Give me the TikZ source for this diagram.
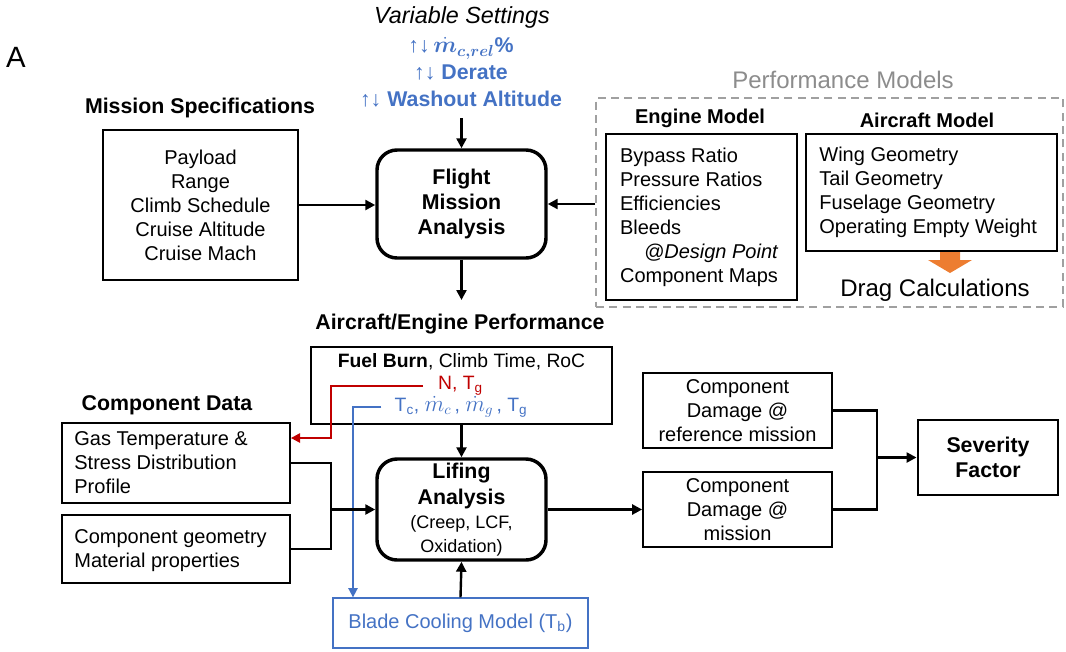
\documentclass[tikz,border=0pt]{standalone}
\usepackage{fontspec}
\setmainfont{Liberation Sans}
\usepackage{amsmath,bm}
\usetikzlibrary{arrows.meta}
\definecolor{myblue}{HTML}{4472C4}
\definecolor{myred}{HTML}{C00000}
\definecolor{myorange}{HTML}{ED7D31}
\definecolor{mygray}{HTML}{8C8C8C}
\definecolor{dashgray}{HTML}{A0A0A0}
\newcommand\fs[2]{\fontsize{#1pt}{#2pt}\selectfont}
\begin{document}
\begin{tikzpicture}[x=0.75pt,y=-0.75pt,
  box/.style={draw, line width=1.3pt, inner sep=0pt, align=center, font=\fs{15}{18}},
  rbox/.style={draw, line width=2.6pt, rounded corners=15pt, inner sep=0pt, align=center},
  txt/.style={inner sep=0pt, align=center},
  ttl/.style={txt, font=\fs{16}{19}\bfseries},
  ln/.style={line width=1.8pt},
  conn/.style={ln, -{Triangle[length=7.5pt,width=7.5pt]}},
  redc/.style={line width=1.6pt, draw=myred, -{Triangle[length=7pt,width=7pt]}},
  bluec/.style={line width=1.3pt, draw=myblue, -{Triangle[length=7pt,width=7pt]}}
]
\useasboundingbox (0,0) rectangle (1066,651);

% top labels
\node[txt, font=\fs{22}{26}] (lblA) at (16,57) {A};
\node[txt, font=\fs{17.5}{21}\itshape] (vs) at (462,17) {Variable Settings};
\node[txt, font=\fs{16}{20}\bfseries, text=myblue] (vb) at (461,72)
  {↑↓\,{\fs{18}{20}$\bm{\dot{m}_{c,rel}}$}\%\\↑↓ Derate\\↑↓ Washout Altitude};
\coordinate (vsb) at (461.5,118);

% mission specs
\node[ttl] (mst) at (200,108) {Mission Specifications};
\node[box, minimum width=146.25pt, minimum height=112.5pt] (ms) at (200.5,205)
  {Payload\\Range\\Climb Schedule\\Cruise Altitude\\Cruise Mach};

% flight mission analysis
\node[rbox, minimum width=126.75pt, minimum height=81pt, font=\fs{16}{19}\bfseries] (fma) at (461.5,204)
  {Flight\\Mission\\Analysis};

% performance models
\node[txt, font=\fs{18}{21}, text=mygray] (pmt) at (843,80) {Performance Models};
\node[draw=dashgray, line width=1.2pt, dash pattern=on 6pt off 4pt, minimum width=350.25pt, minimum height=156.75pt, inner sep=0pt] (pm) at (829.5,202.5) {};

\node[txt, font=\fs{15}{18}\bfseries] (emt) at (700,118) {Engine Model};
\node[box, minimum width=143.25pt, minimum height=124.5pt] (eng) at (701.5,217) {};
\node[txt, anchor=west, align=left, font=\fs{15}{18}] (engt) at ([xshift=11pt]eng.west)
  {Bypass Ratio\\Pressure Ratios\\Efficiencies\\Bleeds\\\hspace*{18pt}\textit{@Design Point}\\Component Maps};

\node[txt, font=\fs{15}{18}\bfseries] (amt) at (927,120) {Aircraft Model};
\node[box, minimum width=188.25pt, minimum height=87.75pt] (acm) at (931.5,192.5) {};
\node[txt, anchor=west, align=left, font=\fs{15}{18}] (acmt) at ([xshift=10.5pt]acm.west)
  {Wing Geometry\\Tail Geometry\\Fuselage Geometry\\Operating Empty Weight};

\fill[myorange] (940,252) -- (960,252) -- (960,260) -- (972,260) -- (950,273) -- (928,260) -- (940,260) -- cycle;
\node[txt, font=\fs{18}{21}] (drag) at (935,290) {Drag Calculations};

% aircraft/engine performance
\coordinate (aep) at (461.5,300);
\node[ttl] (aept) at (460,324) {Aircraft/Engine Performance};
\node[box, minimum width=225.75pt, minimum height=57.75pt] (perf) at (461.5,385.5) {};
\node[txt, font=\fs{14.5}{17}] (fb) at (461.5,362) {\textbf{Fuel Burn}, Climb Time, RoC};
\node[txt, font=\fs{14.5}{17}, text=myred] (nt) at (460.5,386) {N, T\textsubscript{g}};
\node[txt, font=\fs{14.5}{17}, text=myblue] (tc) at (461,407) {T\textsubscript{c}, {\fs{16}{17}$\dot{m}_c$}\,, {\fs{16}{17}$\dot{m}_g$}\,, T\textsubscript{g}};

% component data
\node[ttl] (cdt) at (167,405) {Component Data};
\node[box, minimum width=171pt, minimum height=60pt] (gas) at (176,463) {};
\node[txt, anchor=west, align=left, font=\fs{15}{18}] (gast) at ([xshift=9.75pt]gas.west)
  {Gas Temperature \&\\Stress Distribution\\Profile};
\node[box, minimum width=171pt, minimum height=51pt] (geom) at (176,549) {};
\node[txt, anchor=west, align=left, font=\fs{15}{18}] (geomt) at ([xshift=9.75pt,yshift=-1pt]geom.west)
  {Component geometry\\Material properties};

% lifing
\node[rbox, minimum width=126.75pt, minimum height=75.75pt, font=\fs{16}{18}\bfseries] (lif) at (461.5,509.5)
  {Lifing\\[1.5pt]Analysis\\{\mdseries\fs{13.5}{17}(Creep, LCF,}\\{\mdseries\fs{13.5}{17}Oxidation)}};

% damage
\node[box, minimum width=141.75pt, minimum height=56.25pt] (ref) at (737.5,410.5) {Component\\Damage @\\reference mission};
\node[box, minimum width=141.75pt, minimum height=56.25pt] (mis) at (737.5,509.5) {Component\\Damage @\\mission};
\node[box, line width=2.2pt, minimum width=105pt, minimum height=56.25pt, font=\fs{16}{19}\bfseries] (sev) at (988,457.5) {Severity\\Factor};

% blade cooling
\node[box, draw=myblue, line width=1pt, text=myblue, minimum width=191.25pt, minimum height=37.5pt] (blade) at (460.5,623) {Blade Cooling Model (T\textsubscript{b})};

% coordinates
\coordinate (rk) at (331,438);
\coordinate (bk) at (353,402);
\coordinate (j1) at (331,509.5);
\coordinate (j2) at (877,457.5);

% connectors
\draw[conn] (vsb) -- (fma.north);
\draw[conn] (ms.east) -- (ms.east -| fma.west);
\draw[conn] (fma.east -| pm.west) -- (fma.east);
\draw[conn] (fma.south) -- (aep);
\draw[conn] (perf.south) -- (lif.north);
\draw[redc] ([xshift=-11pt]nt.west) -| (rk) -- (gas.east |- rk);
\draw[bluec] ([xshift=-9.75pt]tc.west) -| (blade.north -| bk);
\draw[ln] (gas.east) -| (j1) |- (geom.east);
\draw[conn] (j1) -- (lif.west);
\draw[conn] (lif.east) -- (mis.west);
\draw[ln] (ref.east) -| (j2) |- (mis.east);
\draw[conn] (j2) -- (sev.west);
\draw[conn] (blade.north) -- (lif.south);
\end{tikzpicture}
\end{document}
